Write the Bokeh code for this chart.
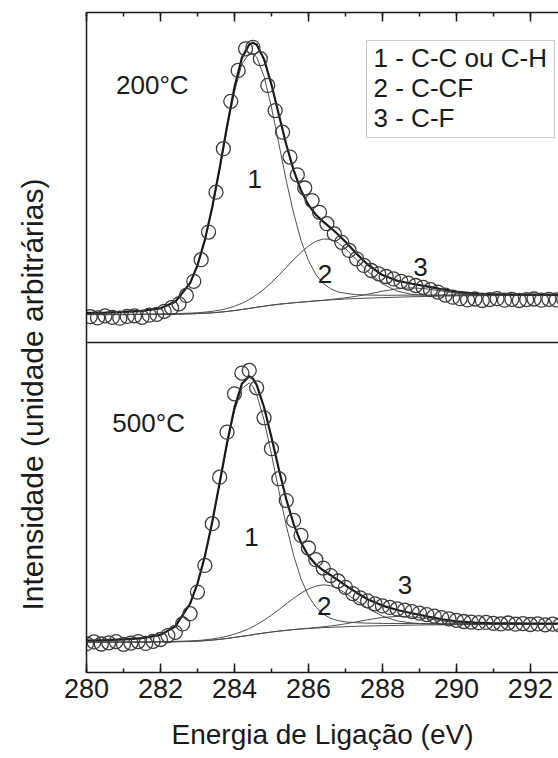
import numpy as np
from bokeh.plotting import figure
from bokeh.models import (Range1d, LinearAxis, SingleIntervalTicker, FixedTicker, Span,
                          Label, BoxAnnotation, CustomJSTickFormatter, Title)
from bokeh.embed import file_html
from bokeh.resources import INLINE

FONT = "Liberation Sans"
INK = "#1a1a1a"
THIN = "#4d4d4d"
CIRC = "#3a3a3a"

# ---------------- measured spectra (binding energy in eV, intensity in a.u.) -------------
top_x = [280.1, 280.3, 280.5, 280.7, 280.9, 281.1, 281.3, 281.5, 281.7, 281.9,
         282.1, 282.3, 282.5, 282.7, 282.9, 283.1, 283.3, 283.5, 283.7, 283.9,
         284.1, 284.3, 284.5, 284.7, 284.9, 285.1, 285.3, 285.5, 285.7, 285.9,
         286.1, 286.3, 286.5, 286.7, 286.9, 287.1, 287.3, 287.5, 287.7, 287.9,
         288.1, 288.3, 288.5, 288.7, 288.9, 289.1, 289.3, 289.5, 289.7, 289.9,
         290.1, 290.3, 290.5, 290.7, 290.9, 291.1, 291.3, 291.5, 291.7, 291.9,
         292.1, 292.3, 292.5, 292.7, 292.9]
top_y = [8.6, 8.2, 8.9, 8.4, 8.1, 8.7, 8.9, 8.4, 9.1, 9.4,
         10.4, 11.6, 12.9, 15.7, 20.4, 27.6, 36.8, 50.1, 64.6, 80.4,
         90.7, 97.9, 98.4, 94.6, 85.7, 77.3, 70.1, 61.8, 55.9, 51.5,
         47.3, 43.4, 39.6, 36.2, 33.4, 30.7, 27.9, 25.7, 24.0, 22.9,
         22.0, 21.2, 20.4, 19.8, 19.0, 18.4, 17.6, 16.8, 15.8, 15.1,
         14.6, 14.2, 14.5, 14.0, 14.3, 14.6, 14.1, 14.4, 14.0, 14.3,
         14.5, 14.1, 14.4, 14.2, 14.5]

bot_x = [280.0, 280.2, 280.4, 280.6, 280.8, 281.0, 281.2, 281.4, 281.6, 281.8,
         282.0, 282.2, 282.4, 282.6, 282.8, 283.0, 283.2, 283.4, 283.6, 283.8,
         284.0, 284.2, 284.4, 284.6, 284.8, 285.0, 285.2, 285.4, 285.6, 285.8,
         286.0, 286.2, 286.4, 286.6, 286.8, 287.0, 287.2, 287.4, 287.6, 287.8,
         288.0, 288.2, 288.4, 288.6, 288.8, 289.0, 289.2, 289.4, 289.6, 289.8,
         290.0, 290.2, 290.4, 290.6, 290.8, 291.0, 291.2, 291.4, 291.6, 291.8,
         292.0, 292.2, 292.4, 292.6, 292.8]
bot_y = [9.6, 10.2, 9.5, 9.9, 10.3, 9.4, 9.8, 10.3, 9.7, 10.4,
         11.0, 12.3, 13.4, 16.2, 19.6, 26.8, 35.7, 49.6, 65.1, 80.1,
         92.9, 99.8, 100.7, 94.9, 84.9, 74.6, 64.6, 57.3, 50.7, 45.7,
         41.5, 37.6, 34.8, 32.3, 30.5, 28.4, 26.3, 24.9, 23.9, 22.9,
         22.2, 21.7, 21.2, 20.8, 20.3, 19.8, 19.3, 18.8, 18.3, 17.9,
         17.4, 17.0, 16.8, 16.6, 16.7, 16.4, 16.2, 16.5, 16.1, 16.3,
         16.0, 16.2, 15.9, 16.1, 15.8]

# ---------------- fitted curves (read at these energies) ---------------------------------
fit_x = [280.0, 280.5, 281.0, 281.5, 282.0, 282.4, 282.8, 283.0, 283.2, 283.4,
         283.6, 283.8, 284.0, 284.2, 284.4, 284.5, 284.6, 284.8, 285.0, 285.2,
         285.4, 285.6, 285.8, 286.0, 286.2, 286.4, 286.6, 286.8, 287.0, 287.3,
         287.6, 288.0, 288.4, 288.8, 289.2, 289.6, 290.0, 290.5, 291.0, 291.5,
         292.0, 292.8]

top_bg = [9.3, 9.3, 9.3, 9.35, 9.4, 9.45, 9.55, 9.65, 9.75, 9.9,
          10.1, 10.35, 10.65, 11.0, 11.35, 11.55, 11.75, 12.1, 12.45, 12.75,
          13.0, 13.25, 13.45, 13.65, 13.85, 14.0, 14.2, 14.35, 14.5, 14.65,
          14.8, 14.95, 15.1, 15.25, 15.35, 15.45, 15.55, 15.6, 15.65, 15.7,
          15.7, 15.7]
top_c1 = [0.48, 0.61, 0.80, 1.10, 1.88, 3.98, 10.0, 15.8, 24.1, 34.8,
          47.4, 60.8, 73.0, 81.8, 85.0, 84.8, 83.4, 76.6, 66.0, 53.5,
          41.0, 29.8, 20.6, 13.7, 8.8, 5.7, 3.7, 2.5, 1.9, 1.3,
          1.0, 0.8, 0.66, 0.55, 0.47, 0.40, 0.34, 0.29, 0.25, 0.22,
          0.19, 0.15]
top_c2 = [0.07, 0.08, 0.09, 0.11, 0.14, 0.17, 0.23, 0.28, 0.36, 0.49,
          0.68, 0.98, 1.42, 2.07, 2.97, 3.53, 4.16, 5.69, 7.54, 9.68,
          12.0, 14.4, 16.6, 18.5, 19.9, 20.5, 20.2, 18.9, 16.8, 12.9,
          8.9, 4.6, 2.0, 0.8, 0.35, 0.2, 0.15, 0.12, 0.1, 0.09,
          0.08, 0.07]
top_c3 = [0.0, 0.0, 0.0, 0.0, 0.0, 0.0, 0.0, 0.0, 0.0, 0.0,
          0.0, 0.0, 0.0, 0.0, 0.0, 0.0, 0.0, 0.0, 0.0, 0.0,
          0.0, 0.0, 0.0, 0.0, 0.04, 0.08, 0.14, 0.25, 0.40, 0.77,
          1.30, 2.14, 2.82, 2.98, 2.52, 1.71, 0.93, 0.32, 0.08, 0.0,
          0.0, 0.0]

bot_bg = [10.1, 10.1, 10.1, 10.15, 10.2, 10.25, 10.35, 10.45, 10.6, 10.8,
          11.05, 11.35, 11.7, 12.05, 12.4, 12.6, 12.8, 13.15, 13.5, 13.8,
          14.05, 14.3, 14.5, 14.65, 14.8, 14.95, 15.05, 15.15, 15.25, 15.4,
          15.5, 15.6, 15.7, 15.8, 15.85, 15.9, 15.95, 16.0, 16.05, 16.1,
          16.1, 16.15]
bot_c1 = [0.52, 0.66, 0.85, 1.22, 2.25, 4.99, 12.4, 19.0, 27.9, 39.1,
          51.7, 64.5, 75.5, 82.6, 84.1, 82.7, 79.9, 71.0, 59.3, 46.8,
          34.9, 24.7, 16.7, 10.9, 7.0, 4.52, 3.01, 2.13, 1.62, 1.2,
          0.95, 0.76, 0.63, 0.52, 0.44, 0.38, 0.33, 0.28, 0.24, 0.21,
          0.18, 0.15]
bot_c2 = [0.05, 0.06, 0.07, 0.08, 0.10, 0.12, 0.17, 0.21, 0.27, 0.37,
          0.52, 0.75, 1.09, 1.58, 2.26, 2.67, 3.15, 4.27, 5.61, 7.15,
          8.80, 10.45, 11.97, 13.2, 14.0, 14.3, 13.9, 12.8, 11.2, 8.5,
          5.9, 3.2, 1.5, 0.7, 0.32, 0.17, 0.12, 0.09, 0.07, 0.06,
          0.05, 0.04]
bot_c3 = [0.0, 0.0, 0.0, 0.0, 0.0, 0.0, 0.0, 0.0, 0.0, 0.0,
          0.0, 0.0, 0.0, 0.0, 0.0, 0.0, 0.0, 0.0, 0.0, 0.0,
          0.0, 0.03, 0.06, 0.11, 0.19, 0.3, 0.47, 0.69, 0.98, 1.5,
          2.08, 2.74, 3.0, 2.74, 2.08, 1.31, 0.69, 0.24, 0.06, 0.0,
          0.0, 0.0]

legend_lines = ["1 - C-C ou C-H", "2 - C-CF", "3 - C-F"]
panel_titles = ["200\u00b0C", "500\u00b0C"]
y_title = "Intensidade (unidade arbitr\u00e1rias)"
x_title = "Energia de Liga\u00e7\u00e3o (eV)"

OFFSET = 110.0  # vertical shift of the upper (200 C) spectrum

p = figure(width=558, height=758, x_range=Range1d(280, 292.76), y_range=Range1d(0, 220),
           output_backend="svg", toolbar_location=None,
           min_border_left=86, min_border_right=0, min_border_top=12, min_border_bottom=86)
p.outline_line_color = None
p.xgrid.visible = False
p.ygrid.visible = False
p.background_fill_color = "white"
p.border_fill_color = "white"

ticker = SingleIntervalTicker(interval=2, num_minor_ticks=2)


def style_x(ax):
    ax.ticker = ticker
    ax.axis_line_color = INK
    ax.axis_line_width = 1.5
    ax.major_tick_line_color = INK
    ax.major_tick_line_width = 1.5
    ax.minor_tick_line_color = INK
    ax.minor_tick_line_width = 1.5
    ax.major_tick_in = 9
    ax.major_tick_out = 0
    ax.minor_tick_in = 4
    ax.minor_tick_out = 0


xa = p.xaxis[0]
style_x(xa)
xa.major_label_text_font = FONT
xa.major_label_text_font_size = "27px"
xa.major_label_text_color = INK
xa.major_label_standoff = 6
xa.axis_label = x_title
xa.axis_label_text_font = FONT
xa.axis_label_text_font_size = "28px"
xa.axis_label_text_font_style = "normal"
xa.axis_label_text_color = INK
xa.axis_label_standoff = 18

top_axis = LinearAxis(formatter=CustomJSTickFormatter(code="return ''"))
style_x(top_axis)
top_axis.major_label_text_font_size = "0px"
p.add_layout(top_axis, "above")

ya = p.yaxis[0]
ya.ticker = FixedTicker(ticks=[])
ya.axis_line_color = INK
ya.axis_line_width = 1.5
ya.major_tick_in = 0
ya.major_tick_out = 0
ya.minor_tick_in = 0
ya.minor_tick_out = 0
ya.major_label_text_font_size = "0px"

# y-axis title spanning both spectra (second, blank line pushes it outward)
p.add_layout(Title(text=y_title + "\n\u00a0", align="left", offset=62, standoff=9,
                   text_font=FONT, text_font_size="30px", text_font_style="normal",
                   text_color=INK), "left")

p.add_layout(Span(location=OFFSET, dimension="width", line_color=INK, line_width=1.5))

panels = [
    (top_x, top_y, top_bg, top_c1, top_c2, top_c3, OFFSET),
    (bot_x, bot_y, bot_bg, bot_c1, bot_c2, bot_c3, 0.0),
]
fx = np.array(fit_x)
for dx, dy, bg, c1, c2, c3, off in panels:
    bg = np.array(bg)
    c1 = np.array(c1)
    c2 = np.array(c2)
    c3 = np.array(c3)
    env = bg + c1 + c2 + c3
    p.line(fx, bg + off, line_color=THIN, line_width=1.0)
    p.line(fx, bg + c3 + off, line_color=THIN, line_width=1.0)
    p.line(fx, bg + c2 + off, line_color=THIN, line_width=1.0)
    p.line(fx, bg + c1 + off, line_color=THIN, line_width=1.0)
    p.line(fx, env + off, line_color=INK, line_width=2.2)
    p.scatter(np.array(dx), np.array(dy) + off, marker="circle", size=14,
              fill_color=None, line_color=CIRC, line_width=1.3)


def lab(x, y, t, size="26px", align="center", base="middle"):
    p.add_layout(Label(x=x, y=y, text=t, text_font=FONT, text_font_size=size,
                       text_color=INK, text_align=align, text_baseline=base))


# panel temperatures
lab(281.78, 195.7, panel_titles[0])
lab(281.68, 83.3, panel_titles[1])
# peak numbers
lab(284.55, 164.6, "1")
lab(286.45, 132.9, "2")
lab(289.03, 135.1, "3")
lab(284.46, 45.1, "1")
lab(286.43, 22.3, "2")
lab(288.61, 29.2, "3")

# legend box
p.add_layout(BoxAnnotation(left=287.57, right=292.65, top=210.67, bottom=178.33,
                           fill_color="white", fill_alpha=1.0,
                           line_color="#555555", line_width=1.2))
for i, t in enumerate(legend_lines):
    lab(287.76, 204.67 - 10.0 * i, t, align="left")

open("out.html", "w").write(file_html(p, INLINE))
